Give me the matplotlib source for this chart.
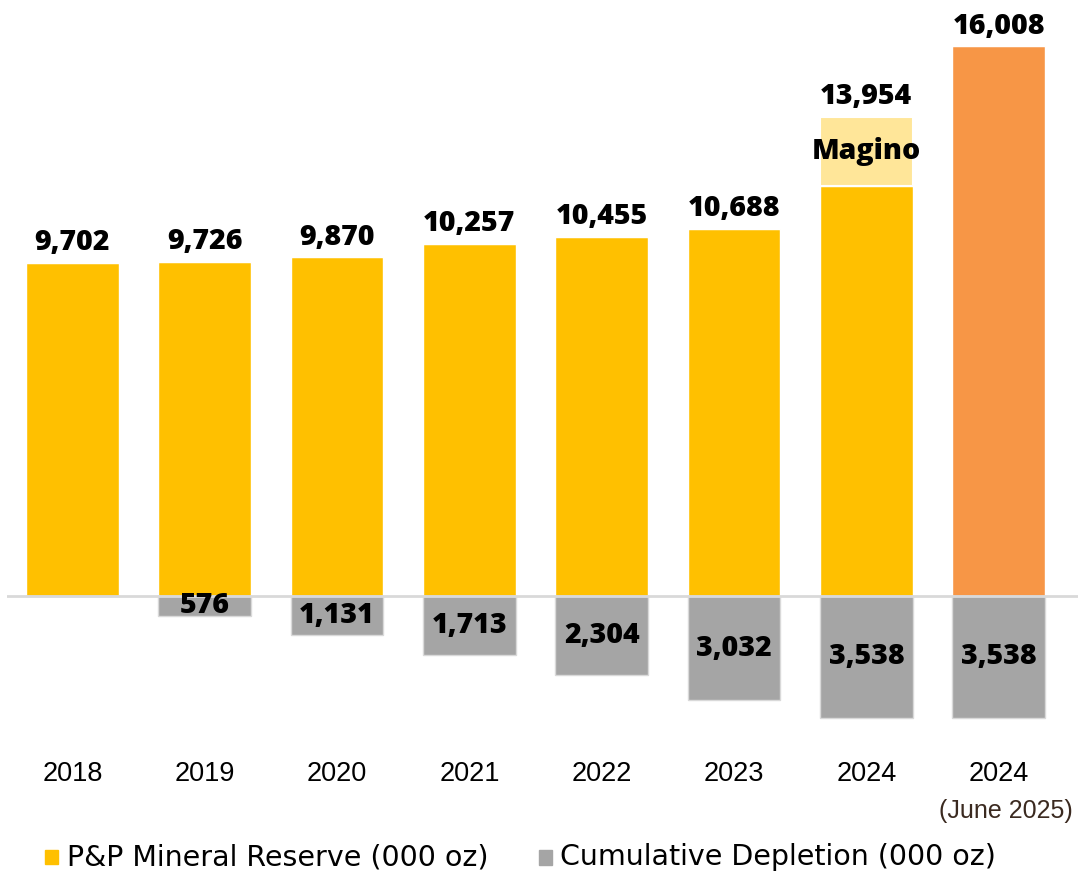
import matplotlib.pyplot as plt
from matplotlib.patches import Rectangle
import numpy as np

plt.rcParams['font.family'] = ['Open Sans', 'DejaVu Sans']

years = ['2018', '2019', '2020', '2021', '2022', '2023', '2024', '2024']
reserve = [9702, 9726, 9870, 10257, 10455, 10688, 11940, 16008]
magino = [0, 0, 0, 0, 0, 0, 2014, 0]
totals = [9702, 9726, 9870, 10257, 10455, 10688, 13954, 16008]
depletion = [0, 576, 1131, 1713, 2304, 3032, 3538, 3538]

yellow = '#FFC000'
light_yellow = '#FFE699'
orange = '#F79646'
grey = '#A5A5A5'

fig = plt.figure(figsize=(10.78, 8.71), dpi=100)
ax = fig.add_axes([7 / 1078, 141 / 871, 1071 / 1078, 730 / 871])

x = np.arange(len(years))
w = 0.70
colors = [yellow] * 7 + [orange]

ax.bar(x, reserve, w, color=colors, edgecolor='white', linewidth=1, zorder=2)
ax.bar(x, magino, w, bottom=reserve, color=light_yellow, edgecolor='white',
       linewidth=1.5, zorder=2)
neg = [-d for d in depletion]
ax.bar(x, neg, w, color=grey, edgecolor='#d9d9d9', linewidth=1, zorder=2)
ax.axhline(0, color='#d9d9d9', lw=2, zorder=3)

lab = dict(fontsize=20.5, fontweight=800, color='black')
for i in range(len(x)):
    ax.annotate(f'{totals[i]:,}', (x[i], totals[i]), xytext=(0, 4),
                textcoords='offset points', ha='center', va='bottom', **lab)
    if depletion[i] > 0:
        ax.text(x[i], -depletion[i] / 2, f'{depletion[i]:,}', ha='center',
                va='center', zorder=4, **lab)

i = 6
ax.text(x[i], reserve[i] + magino[i] / 2, 'Magino', ha='center', va='center',
        zorder=4, **lab)

ax.set_xlim(-0.495, 7.6)
ax.set_ylim(-3902, 17356)
ax.set_xticks(x)
ax.set_xticklabels(years, fontsize=19.5, family='Liberation Sans')
ax.tick_params(axis='x', length=0, pad=22)
ax.set_yticks([])
for s in ax.spines.values():
    s.set_visible(False)

ax.text(x[7] + 0.055, -6270, '(June 2025)', ha='center', va='center',
        fontsize=18, color='#3b2a20', family='Liberation Sans')

# legend
fig.patches.append(Rectangle((45 / 1078, 1 - 864 / 871), 13 / 1078, 14 / 871,
                             transform=fig.transFigure, color=yellow))
fig.text(67 / 1078, 1 - 857 / 871, 'P&P Mineral Reserve (000 oz)',
         fontsize=20.5, va='center', ha='left', family='DejaVu Sans')
fig.patches.append(Rectangle((539 / 1078, 1 - 865 / 871), 13 / 1078, 15 / 871,
                             transform=fig.transFigure, color=grey))
fig.text(560 / 1078, 1 - 857 / 871, 'Cumulative Depletion (000 oz)',
         fontsize=20.5, va='center', ha='left', family='DejaVu Sans')

fig.savefig('out.png', dpi=100)
